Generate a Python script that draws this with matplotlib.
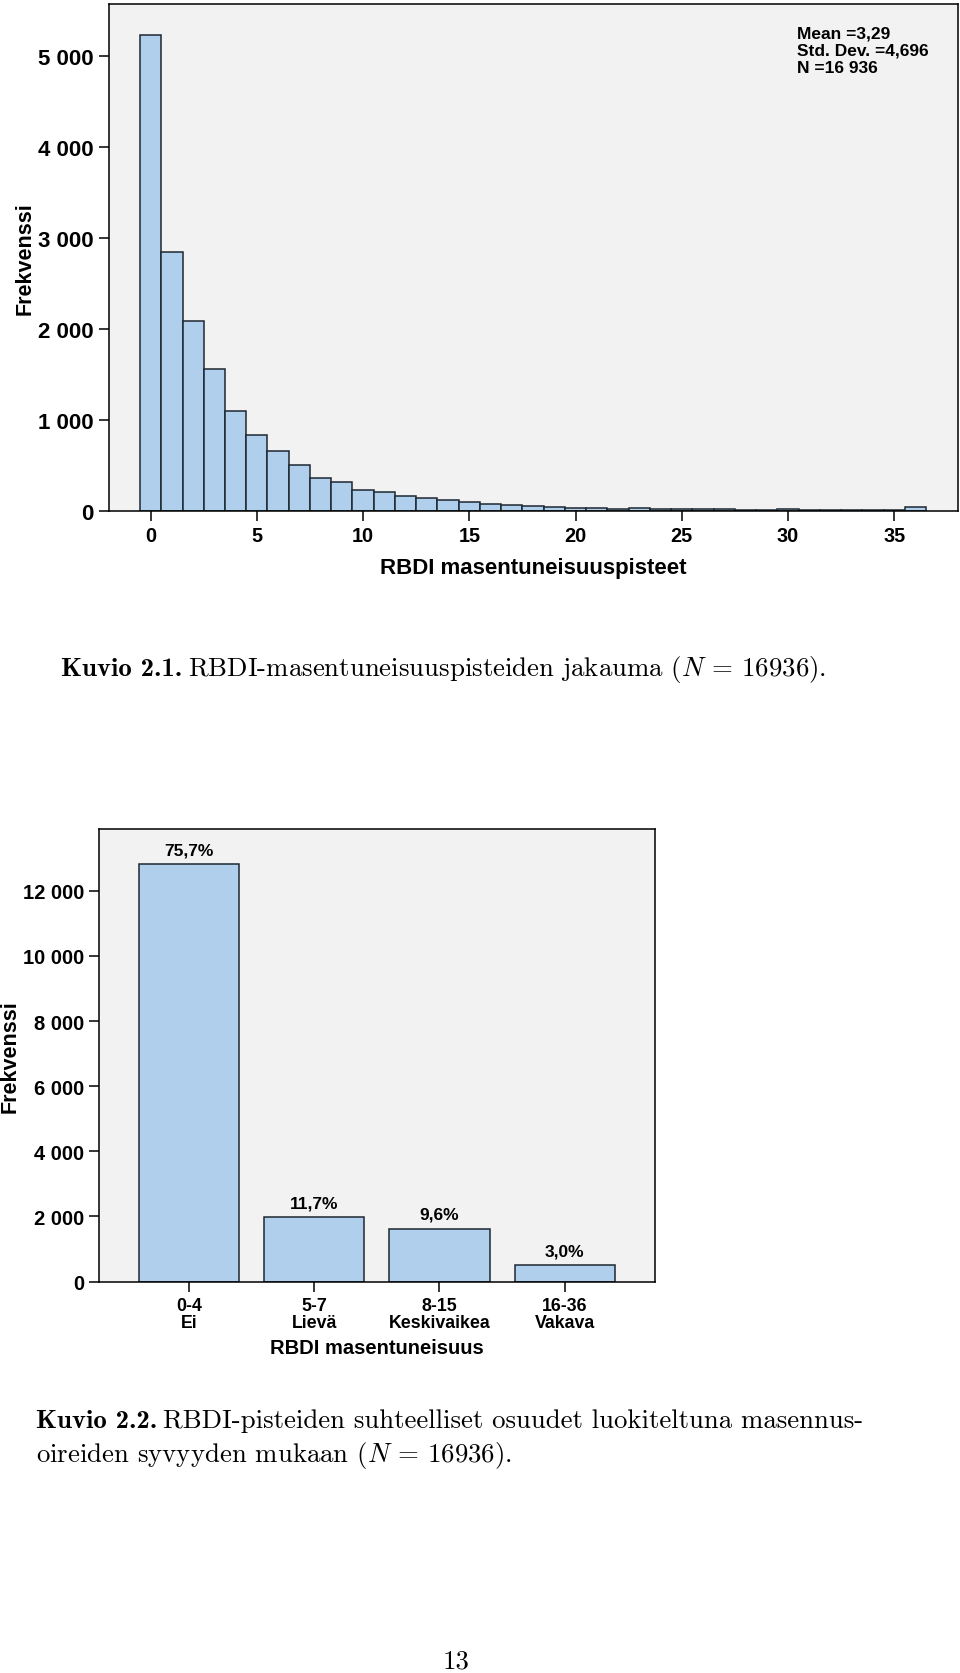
import matplotlib

matplotlib.use("Agg")
import matplotlib.pyplot as plt  # noqa: E402

# RBDI score histogram: frequency for each score 0..36
scores = list(range(37))
counts = [5236, 2840, 2090, 1555, 1092, 829, 652, 503, 353, 318, 230, 204, 155, 142, 116, 91,
          70, 58, 52, 38, 30, 32, 14, 24, 20, 16, 12, 12, 8, 5, 12, 5, 4, 3, 1, 1, 36]
hist_xticks = [0, 5, 10, 15, 20, 25, 30, 35]
hist_yticks = [0, 1000, 2000, 3000, 4000, 5000]
stats_lines = ["Mean =3,29", "Std. Dev. =4,696", "N =16 936"]

# severity classes
classes = ["0-4\nEi", "5-7\nLievä", "8-15\nKeskivaikea", "16-36\nVakava"]
class_counts = [12821, 1981, 1626, 508]
class_pct = ["75,7%", "11,7%", "9,6%", "3,0%"]
class_yticks = [0, 2000, 4000, 6000, 8000, 10000, 12000]

FILL, EDGE, PANEL = "#afcfed", "#1e2730", "#f2f2f2"
SANS = "Liberation Sans"
W, H = 960, 1674
CAP = 19.3

plt.rcParams["mathtext.fontset"] = "cm"
fig = plt.figure(figsize=(W / 100, H / 100), dpi=100)
renderer = fig.canvas.get_renderer()


def thousands(v):
    return f"{v:,.0f}".replace(",", " ")


def style_axes(ax, ysize):
    ax.set_facecolor(PANEL)
    for s in ax.spines.values():
        s.set_color("black")
        s.set_linewidth(1.1)
    ax.tick_params(direction="out", length=7, width=1.1, color="black", pad=4)
    for lab in ax.get_yticklabels():
        lab.set_fontsize(ysize)
        lab.set_fontweight("bold")
        lab.set_family(SANS)


def px_axes(left, top, right, bottom):
    return fig.add_axes([left / W, 1 - bottom / H, (right - left) / W, (bottom - top) / H])


def caption(x, y, bold, rest):
    # bold "Kuvio n.n." in cmb10, then the rest of the line in cmr10
    x0 = x
    if bold:
        t = fig.text(x / W, 1 - y / H, bold, fontsize=CAP, family="cmb10",
                     va="baseline", ha="left")
        x0 = t.get_window_extent(renderer).x1 + CAP * 0.3
    fig.text(x0 / W, 1 - y / H, rest, fontsize=CAP, family="cmr10", va="baseline", ha="left")


# --- histogram ---
ax1 = px_axes(109, 5, 958, 511.5)
ax1.bar(scores, counts, width=1.0, color=FILL, edgecolor=EDGE, linewidth=1.1)
ax1.set_xlim(-1.96, 38.0)
ax1.set_ylim(0, 5575)
ax1.set_xticks(hist_xticks, [str(t) for t in hist_xticks], fontsize=14.3,
               fontweight="bold", family=SANS)
ax1.set_yticks(hist_yticks, [thousands(t) for t in hist_yticks])
style_axes(ax1, 16)
ax1.set_xlabel("RBDI masentuneisuuspisteet", fontsize=16, fontweight="bold",
               family=SANS, labelpad=9)
ax1.set_ylabel("Frekvenssi", fontsize=15.5, fontweight="bold", family=SANS)
ax1.yaxis.set_label_coords((36 - 109) / 849, 0.5)
for line, base in zip(stats_lines, [38.5, 55.7, 73.3]):
    fig.text(797 / W, 1 - base / H, line, fontsize=12.5, fontweight="bold",
             family=SANS, va="baseline", ha="left")

caption(61, 676, "Kuvio 2.1.", r"RBDI-masentuneisuuspisteiden jakauma ($N$ = 16936).")

# --- class bar chart ---
ax2 = px_axes(99.3, 830, 654.6, 1282.6)
xs = range(len(classes))
bars = ax2.bar(xs, class_counts, width=0.8, color=FILL, edgecolor=EDGE, linewidth=1.1)
ax2.set_xlim(-0.72, 3.72)
ax2.set_ylim(0, 13900)
ax2.set_xticks(list(xs), classes, fontsize=12.8, fontweight="bold", family=SANS,
               linespacing=1.0)
ax2.set_yticks(class_yticks, [thousands(t) for t in class_yticks])
style_axes(ax2, 14.5)
for b, lab in zip(bars, class_pct):
    ax2.annotate(lab, (b.get_x() + b.get_width() / 2, b.get_height()), xytext=(0, 5),
                 textcoords="offset points", ha="center", va="bottom", fontsize=12.5,
                 fontweight="bold", family=SANS)
ax2.set_xlabel("RBDI masentuneisuus", fontsize=14.5, fontweight="bold", family=SANS,
               labelpad=5)
ax2.set_ylabel("Frekvenssi", fontsize=15.5, fontweight="bold", family=SANS)
ax2.yaxis.set_label_coords((21 - 99.3) / 555.3, 0.5)

caption(36, 1428, "Kuvio 2.2.",
        "RBDI-pisteiden suhteelliset osuudet luokiteltuna masennus-")
caption(36, 1462, None, r"oireiden syvyyden mukaan ($N$ = 16936).")
fig.text(456 / W, 1 - 1669 / H, "13", fontsize=CAP, family="cmr10", va="baseline",
         ha="center")

fig.savefig("out.png", dpi=100, facecolor="white")
